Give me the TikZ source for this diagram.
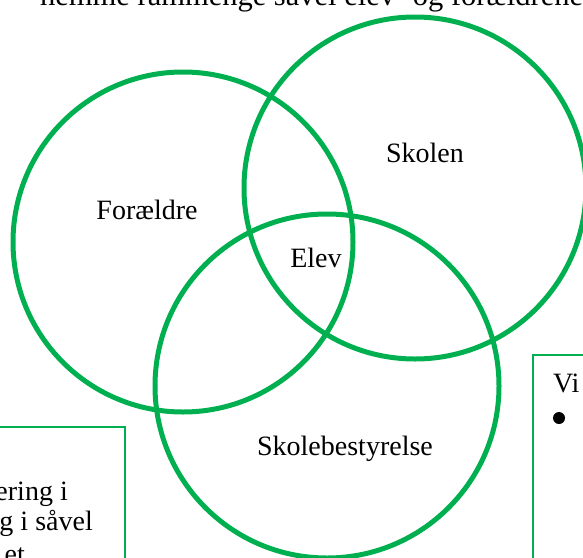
\documentclass[tikz,border=0pt]{standalone}
\usepackage{fontspec}
\setmainfont{Liberation Serif}
\definecolor{venngreen}{RGB}{0,176,80}
\begin{document}
\begin{tikzpicture}[x=1pt, y=-1pt,
	ring/.style={circle, draw=venngreen, line width=5pt, minimum size=#1, inner sep=0pt},
	textbox/.style={draw=venngreen, line width=1.5pt},
	lbl/.style={font=\fontsize{28}{34}\selectfont, inner sep=0pt}]
	\useasboundingbox (0,0) rectangle (583,557);
	\clip (0,0) rectangle (583,557);

	% the three circles
	\node[ring=340pt] (foraeldre) at (183,242) {};
	\node[ring=342pt] (skole)     at (415,188) {};
	\node[ring=344pt] (bestyrelse) at (327,386) {};

	% boxes cut by the page edge
	\coordinate (lboxne) at (125,427);
	\coordinate (rboxnw) at (533,355);
	\draw[textbox] (-10,427) -- (lboxne) -- (125,570);
	\draw[textbox] (600,355) -- (rboxnw) -- (533,570);

	\node[lbl] (skolentxt)  at (425,153) {Skolen};
	\node[lbl] (foraeldretxt) at (147,210) {Forældre};
	\node[lbl] (elevtxt)    at (316,258) {Elev};
	\node[lbl] (bestyrtxt)  at (345,449) {Skolebestyrelse};

	\node[lbl, font=\fontsize{30.5}{36}\selectfont, anchor=base west] (topline) at (40,5) {hemme rammenge såvel elev- og forældrene};

	\node[lbl, anchor=base east] (lline1) at (68,500) {ering i};
	\node[lbl, anchor=base east] (lline2) at (93,530) {g i såvel};
	\node[lbl, anchor=base east] (lline3) at (25,563) {et};

	\node[lbl, anchor=base west] (vi) at (553,392) {Vi};
	\node[circle, fill, minimum size=12pt, inner sep=0pt] (bullet) at (559,418) {};
\end{tikzpicture}
\end{document}
